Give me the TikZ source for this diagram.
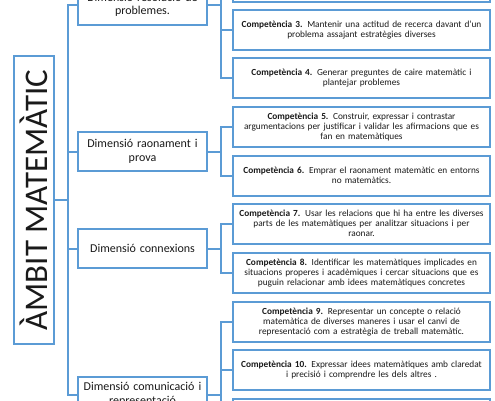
\documentclass[tikz,border=0pt]{standalone}
\usepackage{fontspec}
\setmainfont{Carlito}
\usetikzlibrary{positioning}
\definecolor{boxblue}{HTML}{5B9BD5}
\definecolor{inkgray}{HTML}{1A1A1A}

\tikzset{
  ambitbox/.style={draw=boxblue, line width=2pt, fill=white, minimum width=40pt, minimum height=288pt, inner sep=0pt, text=inkgray},
  dimbox/.style={draw=boxblue, line width=2pt, fill=white, minimum width=129pt, minimum height=39pt, text width=125pt, align=center, inner sep=2pt, text=inkgray, font=\fontsize{12}{13.5}\selectfont},
  compbox/.style={draw=boxblue, line width=2pt, fill=white, minimum width=257pt, minimum height=40pt, text width=255pt, align=center, inner sep=1pt, text=inkgray, font=\fontsize{9.3}{9.8}\selectfont},
  link/.style={draw=boxblue, line width=2pt},
}

\begin{document}
\begin{tikzpicture}[x=1pt,y=-1pt]
\clip (0,0) rectangle (495,400);
\fill[white] (0,0) rectangle (495,400);

% left title
\node[ambitbox] (ambit) at (34,200) {\rotatebox{90}{\fontsize{33}{33}\selectfont ÀMBIT MATEMÀTIC}};

% dimensions
\node[dimbox] (dim1) at (142.5,5) {Dimensió resolució de\\problemes.};
\node[dimbox] (dim2) at (142.5,151.5) {Dimensió raonament i\\prova};
\node[dimbox] (dim3) at (142.5,248.5) {Dimensió connexions};
\node[dimbox, minimum height=35pt, anchor=north] (dim4) at (142.5,376) {Dimensió comunicació i\\representació};

% competences
\node[compbox] (comp2) at (361.5,-18) {};
\node[compbox] (comp3) at (361.5,30) {\textbf{Competència 3.} Mantenir una actitud de recerca davant d'un\\problema assajant estratègies diverses};
\node[compbox] (comp4) at (361.5,78) {\textbf{Competència 4.} Generar preguntes de caire matemàtic i\\plantejar problemes};
\node[compbox] (comp5) at (361.5,127) {\textbf{Competència 5.} Construir, expressar i contrastar\\argumentacions per justificar i validar les afirmacions que es\\fan en matemàtiques};
\node[compbox] (comp6) at (361.5,175.5) {\textbf{Competència 6.} Emprar el raonament matemàtic en entorns\\no matemàtics.};
\node[compbox] (comp7) at (361.5,223.5) {\textbf{Competència 7.} Usar les relacions que hi ha entre les diverses\\parts de les matemàtiques per analitzar situacions i per\\raonar.};
\node[compbox] (comp8) at (361.5,273) {\textbf{Competència 8.} Identificar les matemàtiques implicades en\\situacions properes i acadèmiques i cercar situacions que es\\puguin relacionar amb idees matemàtiques concretes};
\node[compbox] (comp9) at (361.5,322) {\textbf{Competència 9.} Representar un concepte o relació\\matemàtica de diverses maneres i usar el canvi de\\representació com a estratègia de treball matemàtic.};
\node[compbox] (comp10) at (361.5,370) {\textbf{Competència 10.} Expressar idees matemàtiques amb claredat\\i precisió i comprendre les dels altres .};
\node[compbox] (comp11) at (361.5,418.5) {};

% trunk
\foreach \d in {dim1,dim2,dim3,dim4}
  \draw[link] (ambit.east) -- ++(13,0) |- (\d.west);

% brackets
\foreach \c in {comp2,comp3,comp4}
  \draw[link] (dim1.east) -- ++(13,0) |- (\c.west);
\foreach \c in {comp5,comp6}
  \draw[link] (dim2.east) -- ++(13,0) |- (\c.west);
\foreach \c in {comp7,comp8}
  \draw[link] (dim3.east) -- ++(13,0) |- (\c.west);
\foreach \c in {comp9,comp10,comp11}
  \draw[link] (dim4.east) -- ++(13,0) |- (\c.west);
\end{tikzpicture}
\end{document}
